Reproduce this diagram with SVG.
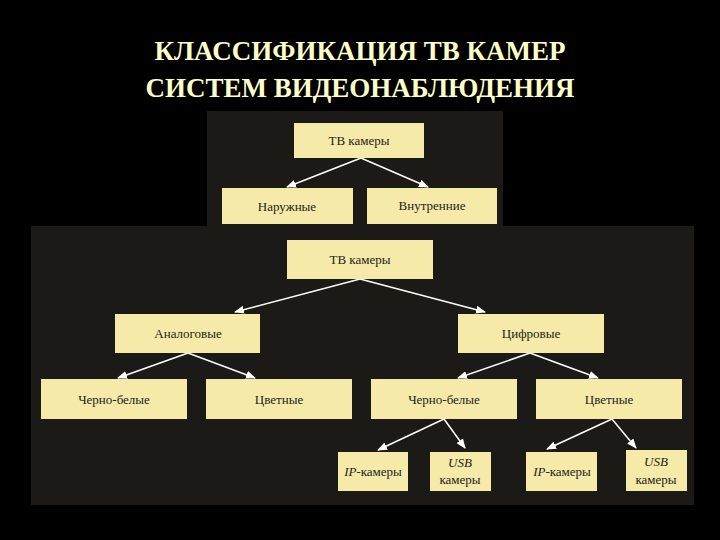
<svg xmlns="http://www.w3.org/2000/svg" width="720" height="540" viewBox="0 0 720 540">
<style>
.b{fill:#f6eaa8}
.t{font-family:"Liberation Serif",serif;font-size:13px;fill:#222;text-anchor:middle}
.i{font-style:italic}
.c line{stroke:#fff;stroke-width:1.5;marker-end:url(#a)}
.h{font-family:"Liberation Serif",serif;font-size:27px;font-weight:bold;fill:#ffffc8;text-anchor:middle}
</style>
<defs><marker id="a" markerWidth="10" markerHeight="8" refX="9" refY="4" orient="auto" markerUnits="userSpaceOnUse"><path d="M0,0L10,4L0,8z" fill="#fff"/></marker></defs>
<rect width="720" height="540" fill="#000"/>
<text class="h" x="360" y="60">КЛАССИФИКАЦИЯ ТВ КАМЕР</text>
<text class="h" x="360" y="97">СИСТЕМ ВИДЕОНАБЛЮДЕНИЯ</text>
<rect x="207" y="111" width="296" height="116" fill="#1c1a16"/>
<rect x="31" y="226" width="663" height="279" fill="#1c1a16"/>
<g class="c">
<line x1="361" y1="158" x2="287" y2="187"/><line x1="361" y1="158" x2="428" y2="187"/>
<line x1="360" y1="279" x2="235" y2="312"/><line x1="360" y1="279" x2="485" y2="312"/>
<line x1="188" y1="353" x2="118" y2="378"/><line x1="188" y1="353" x2="255" y2="378"/>
<line x1="530" y1="353" x2="458" y2="378"/><line x1="530" y1="353" x2="598" y2="378"/>
<line x1="444" y1="419" x2="378" y2="450"/><line x1="444" y1="419" x2="465" y2="448"/>
<line x1="612" y1="419" x2="547" y2="449"/><line x1="612" y1="419" x2="636" y2="448"/>
</g>
<g id="n1"><rect class="b" x="294" y="123" width="130" height="35"/><text class="t" x="359" y="145">ТВ камеры</text></g>
<g id="n2"><rect class="b" x="222" y="188" width="131" height="36"/><text class="t" x="287" y="211">Наружные</text></g>
<g id="n3"><rect class="b" x="367" y="188" width="130" height="36"/><text class="t" x="432" y="210">Внутренние</text></g>
<g id="n4"><rect class="b" x="287" y="240" width="146" height="39"/><text class="t" x="360" y="264">ТВ камеры</text></g>
<g id="n5"><rect class="b" x="115" y="314" width="145" height="39"/><text class="t" x="188" y="338">Аналоговые</text></g>
<g id="n6"><rect class="b" x="458" y="314" width="146" height="39"/><text class="t" x="531" y="338">Цифровые</text></g>
<g id="n7"><rect class="b" x="41" y="379" width="146" height="40"/><text class="t" x="114" y="404">Черно-белые</text></g>
<g id="n8"><rect class="b" x="206" y="379" width="146" height="40"/><text class="t" x="279" y="404">Цветные</text></g>
<g id="n9"><rect class="b" x="371" y="379" width="146" height="40"/><text class="t" x="444" y="404">Черно-белые</text></g>
<g id="n10"><rect class="b" x="536" y="379" width="146" height="40"/><text class="t" x="609" y="404">Цветные</text></g>
<g id="n11"><rect class="b" x="338" y="452" width="70" height="39"/><text class="t" x="373" y="476"><tspan class="i">IP</tspan>-камеры</text></g>
<g id="n12"><rect class="b" x="430" y="452" width="61" height="39"/><text class="t i" x="460" y="467">USB</text><text class="t" x="460" y="484">камеры</text></g>
<g id="n13"><rect class="b" x="526" y="452" width="71" height="39"/><text class="t" x="562" y="476"><tspan class="i">IP</tspan>-камеры</text></g>
<g id="n14"><rect class="b" x="626" y="450" width="61" height="41"/><text class="t i" x="656" y="466">USB</text><text class="t" x="656" y="484">камеры</text></g>
</svg>
